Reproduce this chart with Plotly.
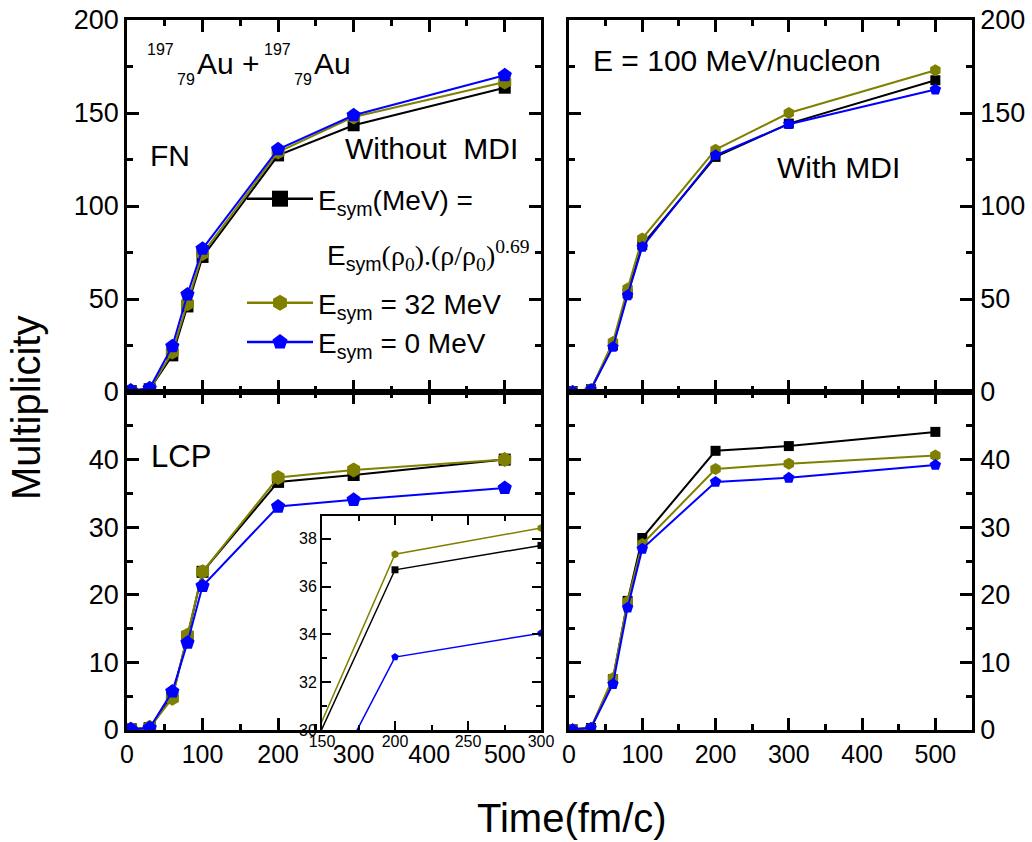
import plotly.graph_objects as go

# ---------------- data ----------------
time_fm = [5, 30, 60, 80, 100, 200, 300, 500]

# FN, without MDI
fn_nomdi_esym_soft = [0.5, 1.5, 19.7, 46.0, 72.6, 127.2, 143.4, 163.6]
fn_nomdi_esym_32 = [0.5, 1.5, 21.5, 47.5, 74.4, 129.0, 147.9, 166.7]
fn_nomdi_esym_0 = [0.8, 2.0, 24.6, 52.4, 77.0, 130.5, 148.8, 170.3]

# FN, with MDI
fn_mdi_esym_soft = [0.5, 1.5, 25.0, 53.0, 79.0, 126.4, 144.3, 167.6]
fn_mdi_esym_32 = [0.5, 1.5, 26.9, 55.6, 82.5, 130.3, 150.0, 173.0]
fn_mdi_esym_0 = [0.5, 1.5, 24.2, 52.0, 78.0, 127.3, 144.0, 162.6]

# LCP, without MDI
lcp_nomdi_esym_soft = [0.1, 0.3, 5.0, 13.8, 23.4, 36.7, 37.72, 40.0]
lcp_nomdi_esym_32 = [0.1, 0.4, 4.7, 14.0, 23.4, 37.35, 38.45, 40.0]
lcp_nomdi_esym_0 = [0.1, 0.3, 5.7, 12.9, 21.3, 33.05, 34.05, 35.8]

# LCP, with MDI
lcp_mdi_esym_soft = [0.1, 0.3, 7.5, 19.1, 28.4, 41.3, 42.0, 44.1]
lcp_mdi_esym_32 = [0.1, 0.3, 7.7, 19.0, 27.5, 38.6, 39.4, 40.6]
lcp_mdi_esym_0 = [0.1, 0.3, 6.8, 18.1, 26.8, 36.7, 37.3, 39.2]

fn_yticks = [0, 50, 100, 150, 200]
fn_yminor = [25, 75, 125, 175]
lcp_yticks = [0, 10, 20, 30, 40, 50]
lcp_yticktext = ["0", "10", "20", "30", "40", ""]
lcp_yminor = [5, 15, 25, 35, 45]
inset_xticks = [150, 200, 250, 300]
inset_xminor = [175, 225, 275]
inset_yticks = [30, 32, 34, 36, 38]
inset_yminor = [31, 33, 35, 37]

series_names = [
    "E<sub>sym</sub>(MeV) =",
    "E<sub>sym</sub> = 32 MeV",
    "E<sub>sym</sub> = 0 MeV",
]
colors = ["#000000", "#808000", "#0000FF"]
symbols = ["square", "hexagon", "pentagon"]

# ---------------- layout helpers ----------------
W, H = 1032, 842
F = "Liberation Sans, Arial, sans-serif"


def px(x):
    return x / W


def py(y):
    return 1 - y / H


fig = go.Figure()

panels = [
    ("", [fn_nomdi_esym_soft, fn_nomdi_esym_32, fn_nomdi_esym_0], [12, 15, 15], 2),
    ("2", [fn_mdi_esym_soft, fn_mdi_esym_32, fn_mdi_esym_0], [10, 12, 12], 2),
    ("3", [lcp_nomdi_esym_soft, lcp_nomdi_esym_32, lcp_nomdi_esym_0], [12, 15, 15], 2),
    ("4", [lcp_mdi_esym_soft, lcp_mdi_esym_32, lcp_mdi_esym_0], [10, 12, 12], 2),
    ("5", [lcp_nomdi_esym_soft, lcp_nomdi_esym_32, lcp_nomdi_esym_0], [7, 8, 8], 1.5),
]

for suf, ys, msz, lw in panels:
    for i in range(3):
        fig.add_trace(go.Scatter(
            x=time_fm, y=ys[i], mode="lines+markers",
            name=series_names[i],
            line=dict(color=colors[i], width=lw),
            marker=dict(symbol=symbols[i], size=msz[i], color=colors[i]),
            xaxis="x" + suf, yaxis="y" + suf,
            showlegend=False,
        ))

# legend entries (no data of their own)
for i in range(3):
    fig.add_trace(go.Scatter(
        x=[None], y=[None], mode="lines+markers", name=series_names[i],
        line=dict(color=colors[i], width=2.5),
        marker=dict(symbol=symbols[i], size=16, color=colors[i]),
        showlegend=True, legend="legend" if i == 0 else "legend2",
    ))

axis_common = dict(
    showline=True, linecolor="black", linewidth=2.5, mirror="ticks",
    ticks="inside", ticklen=12, tickwidth=2.5, tickcolor="black",
    showgrid=False, zeroline=False, automargin=False,
    tickfont=dict(family=F, size=27, color="black"),
)

xl = [px(127), px(541)]
xr = [px(569), px(972)]
yt = [py(392), py(20)]
yb = [py(730), py(392)]


def xaxis(domain, rng, anchor, labels):
    d = dict(axis_common)
    d.update(domain=domain, range=rng, anchor=anchor, tickmode="linear", tick0=0, dtick=100,
             showticklabels=labels, tickfont=dict(family=F, size=25, color="black"),
             minor=dict(ticks="inside", ticklen=6, tickwidth=2.5, tickcolor="black", dtick=50, showgrid=False))
    return d


def yaxis(domain, rng, anchor, vals, text, minor, side):
    d = dict(axis_common)
    d.update(domain=domain, range=rng, anchor=anchor, tickmode="array", tickvals=vals, ticktext=text,
             side=side,
             minor=dict(ticks="inside", ticklen=6, tickwidth=2.5, tickcolor="black",
                        tickmode="array", tickvals=minor, showgrid=False))
    return d


inset_common = dict(
    showline=True, linecolor="black", linewidth=2, mirror="ticks",
    ticks="inside", ticklen=9, tickwidth=2, tickcolor="black",
    showgrid=False, zeroline=False, automargin=False, tickmode="array",
    tickfont=dict(family=F, size=16, color="black"),
)

fig.update_layout(
    xaxis=xaxis(xl, [0, 548], "y", False),
    yaxis=yaxis(yt, [0, 200], "x", fn_yticks, [str(v) for v in fn_yticks], fn_yminor, "left"),
    xaxis2=xaxis(xr, [0, 550], "y2", False),
    yaxis2=yaxis(yt, [0, 200], "x2", fn_yticks, [str(v) for v in fn_yticks], fn_yminor, "right"),
    xaxis3=xaxis(xl, [0, 548], "y3", True),
    yaxis3=yaxis(yb, [0, 50], "x3", lcp_yticks, lcp_yticktext, lcp_yminor, "left"),
    xaxis4=xaxis(xr, [0, 550], "y4", True),
    yaxis4=yaxis(yb, [0, 50], "x4", lcp_yticks, lcp_yticktext, lcp_yminor, "right"),
    xaxis5=dict(
        inset_common,
        domain=[px(322), px(541)], range=[150, 300], anchor="y5",
        tickvals=inset_xticks, ticklabelstandoff=-4,
        minor=dict(ticks="inside", ticklen=5, tickwidth=2, tickcolor="black",
                   tickmode="array", tickvals=inset_xminor, showgrid=False),
    ),
    yaxis5=dict(
        inset_common,
        domain=[py(730), py(516)], range=[30, 38.95], anchor="x5",
        tickvals=inset_yticks,
        minor=dict(ticks="inside", ticklen=5, tickwidth=2, tickcolor="black",
                   tickmode="array", tickvals=inset_yminor, showgrid=False),
    ),
    width=W, height=H,
    margin=dict(l=0, r=0, t=0, b=0, pad=0, autoexpand=False),
    paper_bgcolor="white", plot_bgcolor="white",
    font=dict(family=F, color="black"),
    legend=dict(x=px(242), y=py(174), xanchor="left", yanchor="top",
                bgcolor="rgba(0,0,0,0)", font=dict(family=F, size=28, color="black"),
                itemwidth=66, itemsizing="trace", tracegroupgap=0),
    legend2=dict(x=px(242), y=py(278), xanchor="left", yanchor="top",
                 bgcolor="rgba(0,0,0,0)", font=dict(family=F, size=28, color="black"),
                 itemwidth=66, itemsizing="trace", tracegroupgap=0),
)

ann = []


def text(t, x, y, size, xanchor="left", yanchor="middle", angle=0, family=F):
    ann.append(dict(text=t, x=px(x), y=py(y), xref="paper", yref="paper",
                    xanchor=xanchor, yanchor=yanchor, showarrow=False, textangle=angle,
                    font=dict(family=family, size=size, color="black")))


# Reaction label
text("197", 145, 50, 16)
text("79", 175, 80, 16)
text("Au +", 195, 63, 30)
text("197", 262, 50, 16)
text("79", 292, 80, 16)
text("Au", 312, 63, 30)

text("FN", 148, 156, 30)
text("Without  MDI", 343, 148, 30)
text("E = 100 MeV/nucleon", 591, 60, 30)
text("With MDI", 775, 167, 30)
text("LCP", 149, 456, 31)

formula = ("E<sub>sym</sub><span style=\"font-family:'Liberation Serif',serif\">(ρ<sub>0</sub>).(ρ/ρ<sub>0</sub>)"
           "<sup>0.69</sup></span>")
text(formula, 325, 255, 28)

text("Multiplicity", 26, 408, 40, xanchor="center", angle=-90)
text("Time(fm/c)", 572, 818, 40, xanchor="center")

fig.update_layout(annotations=ann)

fig.write_html("out.html")
